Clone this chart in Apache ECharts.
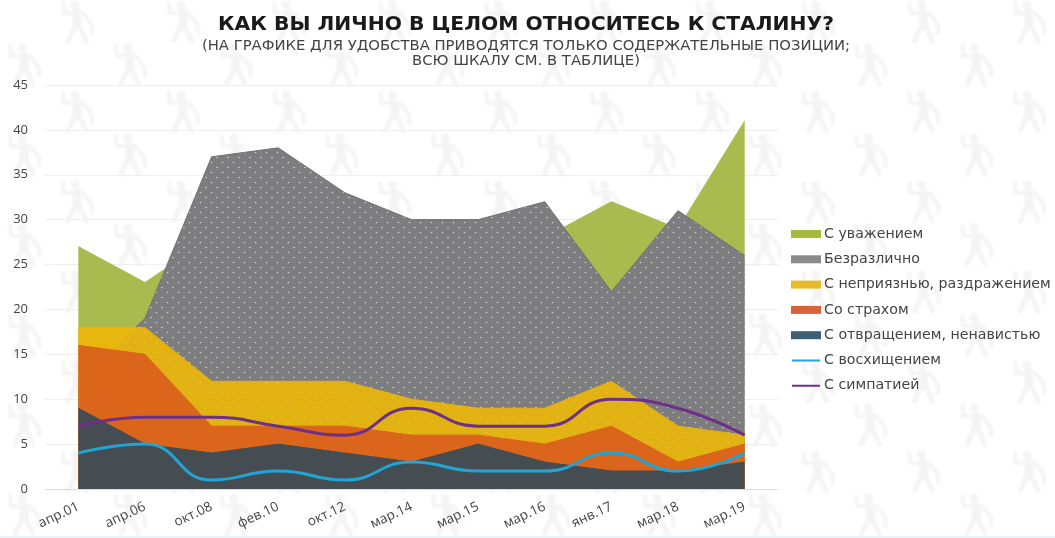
<!DOCTYPE html>
<html><head><meta charset="utf-8">
<script src="https://cdn.jsdelivr.net/npm/echarts@6/dist/echarts.min.js"></script>
<style>
html,body{margin:0;padding:0;width:1055px;height:538px;overflow:hidden;background:#fff}
#wm{position:absolute;left:0;top:0;width:1055px;height:536px}
#chart{position:absolute;left:0;top:0;width:1055px;height:538px}
#edge{position:absolute;left:0;top:536px;width:1055px;height:2px;background:#e6f3fb}
</style></head><body>
<svg id="wm" xmlns="http://www.w3.org/2000/svg"><defs>
<filter id="b"><feGaussianBlur stdDeviation="0.8"/></filter>
<g id="f" fill="none" stroke="#f4f4f4" stroke-width="4" stroke-linejoin="round" stroke-linecap="round" filter="url(#b)">
<circle cx="15" cy="5" r="4.5" fill="#f4f4f4" stroke="none"/>
<path d="M3 3L4 13L23 13L32 25L32 33"/>
<path d="M17 13L17 26" stroke-width="9"/>
<path d="M15 26L8 41M19 26L26 41" stroke-width="5"/>
</g>
<pattern id="p" width="105.8" height="90" patternUnits="userSpaceOnUse">
<use href="#f" x="60" y="0"/><use href="#f" x="7" y="43"/><use href="#f" x="60" y="-90"/>
</pattern></defs><rect width="1055" height="536" fill="url(#p)"/></svg>
<div id="edge"></div>
<div id="chart"></div>
<script>
const categories = ['апр.01','апр.06','окт.08','фев.10','окт.12','мар.14','мар.15','мар.16','янв.17','мар.18','мар.19'];
const respect    = [27,23,28,30,32,30,30,28,32,29,41];
const indifferent= [12,19,37,38,33,30,30,32,22,31,26];
const dislike    = [18,18,12,12,12,10,9,9,12,7,6];
const fear       = [16,15,7,7,7,6,6,5,7,3,5];
const disgust    = [9,5,4,5,4,3,5,3,2,2,3];
const admiration = [4,5,1,2,1,3,2,2,4,2,4];
const sympathy   = [7,8,8,7,6,9,7,7,10,9,6];
const yTicks = {min:0,max:45,interval:5};

const font = '"Open Sans", sans-serif';
const wide = '"DejaVu Sans", sans-serif';
function dotTile(base, alpha){
  const t = document.createElement('canvas'); t.width = 11; t.height = 10;
  const c = t.getContext('2d');
  if(base){ c.fillStyle = base; c.fillRect(0,0,11,10); }
  c.fillStyle = 'rgba(255,255,255,'+alpha+')';
  [[2.5,2.5],[8,7.5]].forEach(d=>{c.beginPath();c.arc(d[0],d[1],0.8,0,7);c.fill();});
  return t;
}
const LINE_ICON = 'path://M0 0h.01v.01zM0 8h.01v.01zM0 3h28v2h-28z';
let zi = 1;
function area(name,data,legendColor,fill,edge){
  return {name,type:'line',z:zi++,data,symbol:'none',silent:true,
    itemStyle:{color:legendColor},
    lineStyle:{width:1,color:edge||(typeof fill==='string'?fill:'#777')},
    areaStyle:{color:fill,opacity:1}};
}
function line(name,data,color){
  return {name,type:'line',z:zi++,data,symbol:'none',smooth:0.5,silent:true,
    itemStyle:{color},lineStyle:{width:3,color}};
}
const chart = echarts.init(document.getElementById('chart'),null,{renderer:'canvas'});
const s1 = area('С уважением',respect,'#a6ba3e','#a9bb4f');
const s2 = area('Безразлично',indifferent,'#8a8a8a',{image:dotTile('#7e7e82',0.6),repeat:'repeat'},'#707072');
const s3 = area('С неприязнью, раздражением',dislike,'#e8b928','#e7b60f');
const s4 = {name:'Безразлично',type:'line',z:zi++,data:indifferent,symbol:'none',silent:true,
  itemStyle:{color:'#8a8a8a'},lineStyle:{width:0},
  areaStyle:{color:{image:dotTile('rgba(100,100,100,0.04)',0.18),repeat:'repeat'},opacity:1}};
const s5 = area('Со страхом',fear,'#d8623a','#dc651c');
const s6 = area('С отвращением, ненавистью',disgust,'#3f5f74','#454d53');
const s7 = line('С восхищением',admiration,'#1fa6d6');
const s8 = line('С симпатией',sympathy,'#6e2f88');
chart.setOption({
  animation:false,
  backgroundColor:'transparent',
  textStyle:{fontFamily:font},
  title:{
    text:'КАК ВЫ ЛИЧНО В ЦЕЛОМ ОТНОСИТЕСЬ К СТАЛИНУ?',
    subtext:'(НА ГРАФИКЕ ДЛЯ УДОБСТВА ПРИВОДЯТСЯ ТОЛЬКО СОДЕРЖАТЕЛЬНЫЕ ПОЗИЦИИ;\nВСЮ ШКАЛУ СМ. В ТАБЛИЦЕ)',
    left:526,top:15,textAlign:'center',itemGap:3,padding:0,
    textStyle:{fontFamily:wide,fontSize:20.3,fontWeight:'bold',color:'#1a1a1a'},
    subtextStyle:{fontFamily:wide,fontSize:14.8,color:'#444',lineHeight:15.5,align:'center'}
  },
  legend:{
    orient:'vertical',left:791,top:227,padding:0,itemWidth:30,itemHeight:8,itemGap:11.3,
    textStyle:{fontFamily:wide,fontSize:14.2,color:'#444',padding:[0,0,0,-2]},
    selectedMode:false,
    data:[
      {name:'С уважением',icon:'rect'},
      {name:'Безразлично',icon:'rect'},
      {name:'С неприязнью, раздражением',icon:'rect'},
      {name:'Со страхом',icon:'rect'},
      {name:'С отвращением, ненавистью',icon:'rect'},
      {name:'С восхищением',icon:LINE_ICON},
      {name:'С симпатией',icon:LINE_ICON}
    ]
  },
  grid:{left:45,right:277,top:85,bottom:49,containLabel:false},
  xAxis:{type:'category',data:categories,boundaryGap:true,
    axisTick:{show:false},axisLine:{lineStyle:{color:'#ddd',width:1}},
    axisLabel:{rotate:25,interval:0,margin:17,fontSize:13.5,color:'#444',fontFamily:font},
    splitLine:{show:false}},
  yAxis:{type:'value',min:yTicks.min,max:yTicks.max,interval:yTicks.interval,
    axisLine:{show:false},axisTick:{show:false},
    axisLabel:{margin:17,fontSize:13,color:'#444',fontFamily:font},
    splitLine:{lineStyle:{color:'#efefef',width:1}}},
  series:[s1,s2,s3,s4,s5,s6,s7,s8]
});
</script></body></html>
